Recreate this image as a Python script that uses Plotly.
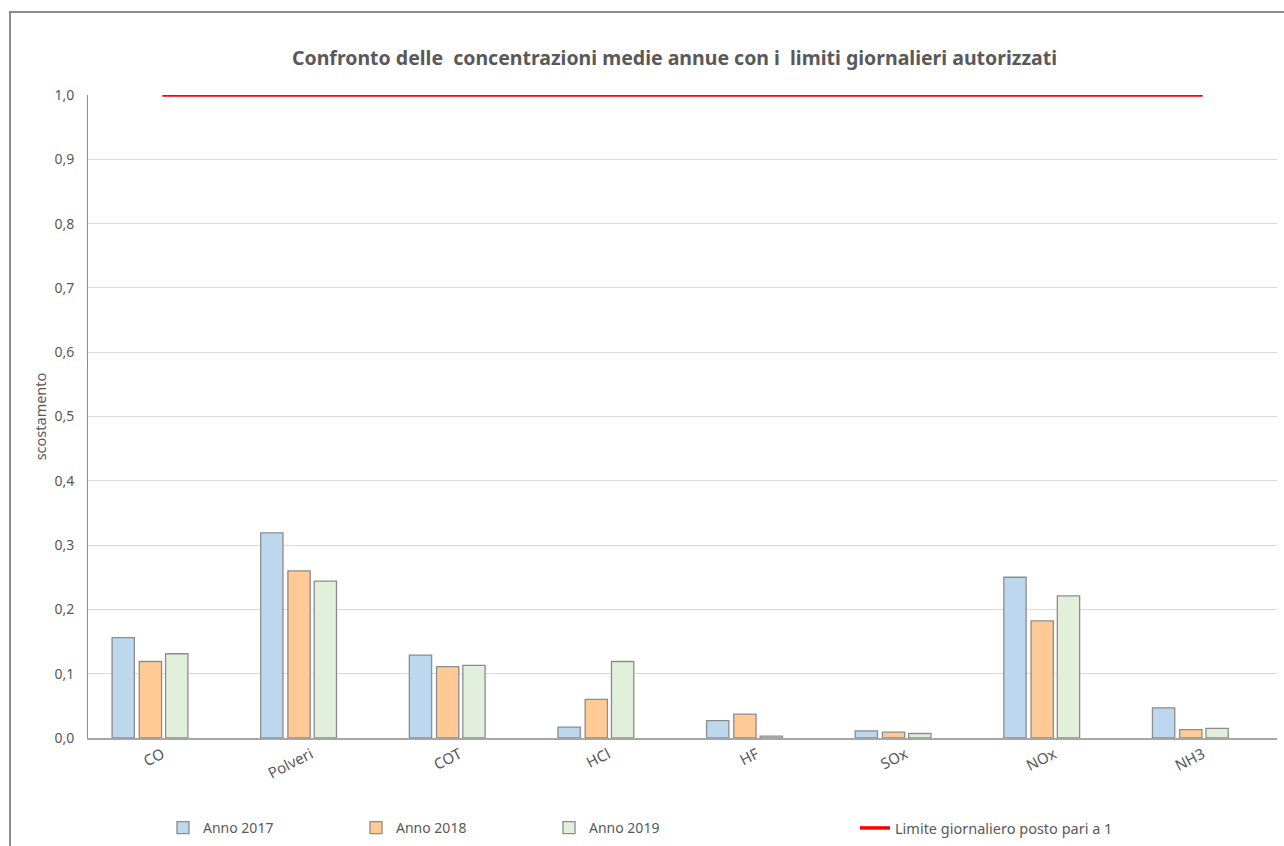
import plotly.graph_objects as go

# Inquinanti monitorati
categorie = ["CO", "Polveri", "COT", "HCl", "HF", "SOx", "NOx", "NH3"]

# Rapporto tra concentrazione media annua e limite giornaliero autorizzato
anno_2017 = [0.156, 0.319, 0.129, 0.017, 0.027, 0.011, 0.250, 0.047]
anno_2018 = [0.119, 0.260, 0.111, 0.060, 0.037, 0.009, 0.182, 0.013]
anno_2019 = [0.131, 0.244, 0.113, 0.119, 0.003, 0.007, 0.221, 0.015]

# Limite giornaliero normalizzato
limite = [1.0] * len(categorie)

nomi_serie = ["Anno 2017", "Anno 2018", "Anno 2019"]
colori = ["#BDD7EE", "#FFCA96", "#E2EFDA"]
offsets = [-0.338, -0.155, 0.022]
larghezza = 0.150

# Geometria della pagina (px)
W, H = 1284, 846
L, R, T, B = 88, 7, 95, 108
pw, ph = W - L - R, H - T - B


def px_x(px):
    return (px - L) / pw


def px_y(py):
    return (H - B - py) / ph


fig = go.Figure()

for nome, valori, colore, off in zip(nomi_serie, [anno_2017, anno_2018, anno_2019], colori, offsets):
    fig.add_trace(go.Bar(
        x=categorie, y=valori, name=nome,
        marker=dict(color=colore, line=dict(color="#8C8C8C", width=1.3)),
        offset=off, width=larghezza,
        legend="legend",
    ))

fig.add_trace(go.Scatter(
    x=categorie, y=limite, mode="lines",
    name="Limite giornaliero posto pari a 1",
    line=dict(color="#FF0000", width=3.5),
    legend="legend2",
))

font_fam = "Noto Sans, Open Sans, sans-serif"
grigio = "#595959"

fig.update_layout(
    width=W, height=H,
    margin=dict(l=L, r=R, t=T, b=B, autoexpand=False),
    paper_bgcolor="white", plot_bgcolor="white",
    separators=", ",
    barmode="overlay",
    font=dict(family=font_fam, color=grigio, size=14),
    title=dict(
        text="<b>Confronto delle  concentrazioni medie annue con i  limiti giornalieri autorizzati</b>",
        x=0.5253, xanchor="center", y=1 - 58 / H, yanchor="middle",
        font=dict(family=font_fam, size=19.5, color=grigio),
    ),
    xaxis=dict(
        type="category", range=[-0.5, len(categorie) - 0.5],
        showgrid=False, showline=True, linecolor="#A6A6A6", linewidth=2,
        ticks="", tickangle=-27, tickfont=dict(size=15, color=grigio),
        fixedrange=True,
    ),
    yaxis=dict(
        range=[0, 1.0], dtick=0.1, tickformat=".1f",
        showgrid=True, gridcolor="#D9D9D9", gridwidth=1,
        showline=True, linecolor="#8C8C8C", linewidth=1,
        ticks="", ticklabelstandoff=10,
        tickfont=dict(size=14, color=grigio),
        title=dict(text="scostamento", font=dict(size=14.5, color=grigio), standoff=4),
        zeroline=False,
    ),
    legend=dict(
        orientation="h", x=px_x(163), y=px_y(828), yanchor="middle", xanchor="left",
        entrywidth=148, entrywidthmode="pixels",
        font=dict(size=14, color=grigio), bgcolor="rgba(0,0,0,0)",
        traceorder="normal",
    ),
    legend2=dict(
        orientation="h", x=px_x(855), y=px_y(828), yanchor="middle", xanchor="left",
        font=dict(size=14.5, color=grigio), bgcolor="rgba(0,0,0,0)",
    ),
    shapes=[dict(
        type="rect", xref="paper", yref="paper",
        x0=px_x(10), x1=px_x(1300), y0=px_y(12), y1=px_y(880),
        line=dict(color="#8C8C8C", width=2), fillcolor="rgba(0,0,0,0)", layer="below",
    )],
)

fig.write_html("out.html")
